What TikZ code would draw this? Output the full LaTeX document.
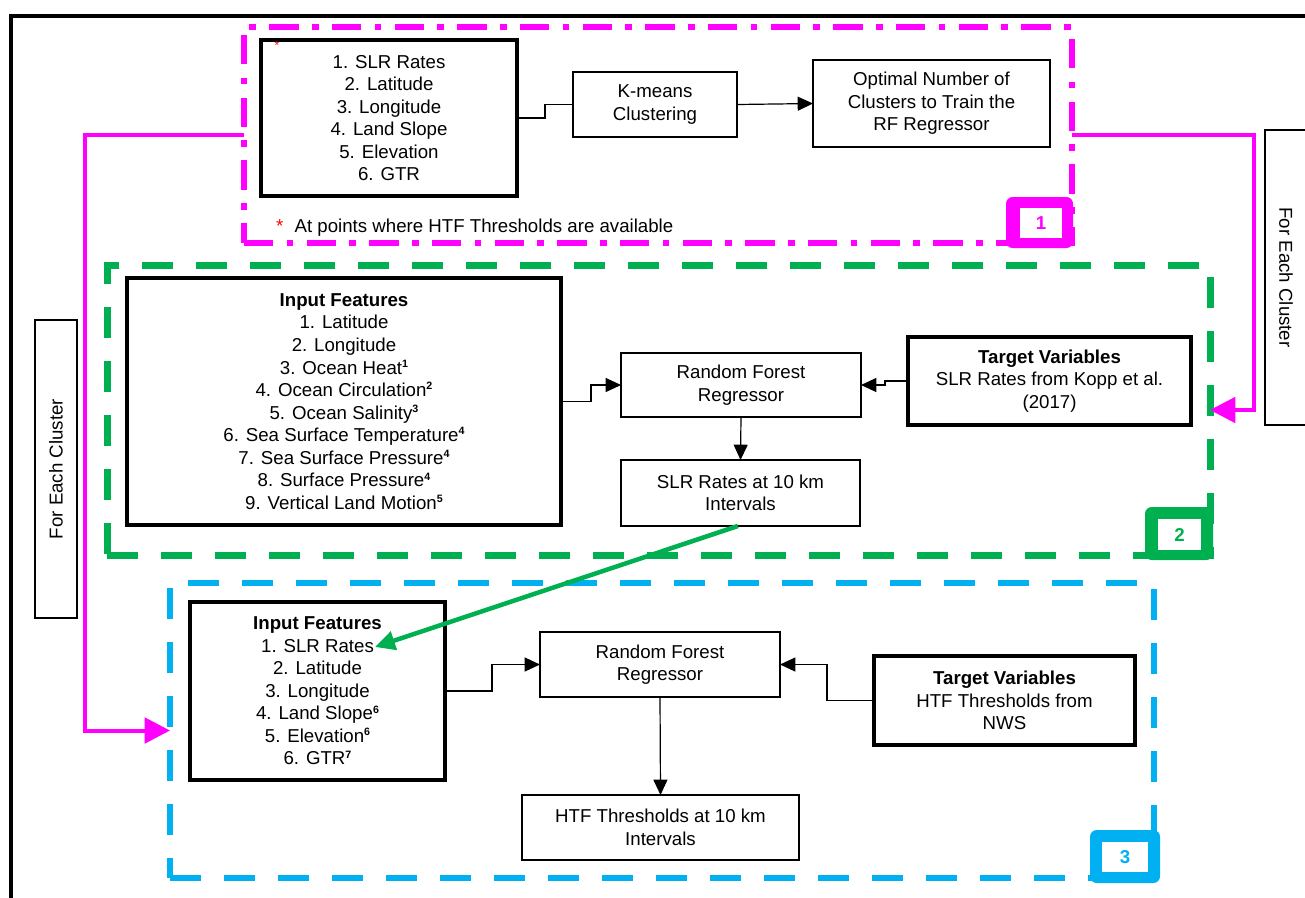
\documentclass[tikz,border=0pt]{standalone}
\usepackage{fontspec}
\setmainfont{Liberation Sans}
\usetikzlibrary{arrows.meta,calc}
\definecolor{mag}{RGB}{255,0,255}
\definecolor{grn}{RGB}{0,176,80}
\definecolor{blu}{RGB}{0,176,240}
\newcommand\mybox[7]{\node[#6, minimum width={(#4-#2)*0.75pt}, minimum height={(#5-#3)*0.75pt}] (#1) at ({(#2+#4)/2},{(#3+#5)/2}) {#7};}
\newcommand\sups[1]{\raisebox{5pt}{\bfseries\fontsize{8pt}{8pt}\selectfont #1}}
\tikzset{
  every node/.style={font=\fontsize{14pt}{16.9pt}\selectfont, align=center, inner sep=0pt, outer sep=0pt},
  thinbox/.style={draw, line width=1.1pt},
  thickbox/.style={draw, line width=2.6pt},
  conn/.style={line width=0.9pt, -{Triangle[length=11.5pt,width=10.5pt]}},
  plainconn/.style={line width=0.9pt},
  magconn/.style={mag, line width=3pt, -{Triangle[length=19pt,width=19pt]}},
  grnconn/.style={grn, line width=3.4pt, -{Triangle[length=15pt,width=14pt]}},
  sec1/.style={draw=mag, line width=4.1pt, dash pattern=on 22pt off 10pt on 5pt off 10pt},
  sec2/.style={draw=grn, line width=5.25pt, dash pattern=on 23.25pt off 17.25pt},
  sec3/.style={draw=blu, line width=4.9pt, dash pattern=on 23.25pt off 17.25pt},
  badge/.style={fill=#1, rounded corners=5pt},
  badgein/.style={fill=white, text=#1, font=\bfseries\fontsize{14pt}{14pt}\selectfont},
}
\begin{document}
\begin{tikzpicture}[x=0.75pt, y=-0.75pt]
\useasboundingbox (0,0) rectangle (1305,897);
% outer frame
\draw[line width=2.3pt] (11,910) -- (11,16) -- (1315,16);
% sections
\mybox{s1}{244}{27}{1072}{243}{sec1}{}
\mybox{s2}{107}{265}{1210}{555}{sec2}{}
\mybox{s3}{170}{583}{1154}{878}{sec3}{}
% badges
\mybox{b1}{1006}{197}{1073}{248}{badge=mag}{}
\mybox{b1i}{1020}{208}{1062}{238}{badgein=mag}{1}
\mybox{b2}{1145}{507}{1213}{560}{badge=grn}{}
\mybox{b2i}{1158}{519}{1201}{550}{badgein=grn}{2}
\mybox{b3}{1090}{830}{1160}{883}{badge=blu}{}
\mybox{b3i}{1102}{842}{1148}{872}{badgein=blu}{3}
% section 1
\mybox{in1}{261}{40}{517}{196}{thickbox}{1. SLR Rates\\2. Latitude\\3. Longitude\\4. Land Slope\\5. Elevation\\6. GTR}
\node[text=red, font=\fontsize{9pt}{9pt}\selectfont] (ast) at (277,45) {*};
\mybox{km}{573}{72}{737}{137}{thinbox}{K-means\\Clustering}
\mybox{opt}{813}{60}{1050}{147}{thinbox}{Optimal Number of\\Clusters to Train the\\RF Regressor}
\node[anchor=west] (note) at (276,228) {{\color{red}*}\hspace{8.5pt}At points where HTF Thresholds are available};
% for each cluster boxes
\node[thinbox, rotate=90, minimum width={298*0.75pt}, minimum height={42*0.75pt}] (fec1) at (56,469) {For Each Cluster};
\node[thinbox, rotate=-90, minimum width={295*0.75pt}, minimum height={42*0.75pt}] (fec2) at (1286,277.5) {For Each Cluster};
% section 2
\mybox{if2}{127}{278}{561}{525}{thickbox}{\textbf{Input Features}\\1. Latitude\\2. Longitude\\3. Ocean Heat\sups{1}\\4. Ocean Circulation\sups{2}\\5. Ocean Salinity\sups{3}\\6. Sea Surface Temperature\sups{4}\\7. Sea Surface Pressure\sups{4}\\8. Surface Pressure\sups{4}\\9. Vertical Land Motion\sups{5}}
\mybox{rf2}{621}{353}{861}{417}{thinbox}{Random Forest\\Regressor}
\mybox{tv2}{908}{337}{1191}{425}{thickbox}{\textbf{Target Variables}\\SLR Rates from Kopp et al.\\(2017)}
\mybox{slr}{621}{460}{860}{526}{thinbox}{SLR Rates at 10 km\\Intervals}
% section 3
\mybox{if3}{190}{602}{445}{780}{thickbox}{\textbf{Input Features}\\1. SLR Rates\\2. Latitude\\3. Longitude\\4. Land Slope\sups{6}\\5. Elevation\sups{6}\\6. GTR\sups{7}}
\mybox{rf3}{540}{632}{780}{697}{thinbox}{Random Forest\\Regressor}
\mybox{tv3}{874}{656}{1135}{745}{thickbox}{\textbf{Target Variables}\\HTF Thresholds from\\NWS}
\mybox{htf}{522}{795}{799}{860}{thinbox}{HTF Thresholds at 10 km\\Intervals}
% connectors
\draw[plainconn] (in1.east) -- ++(28,0) |- (km.west);
\draw[conn] (km.east) -- (opt.west);
\draw[conn] (if2.east) -- ++(30,0) |- (rf2.west);
\draw[conn] (tv2.west) -- ++(-23,0) |- (rf2.east);
\draw[conn] (rf2.south) -- (slr.north);
\draw[conn] (if3.east) -- ++(47,0) |- (rf3.west);
\draw[conn] (tv3.west) -- ++(-47,0) |- (rf3.east);
\draw[conn] (rf3.south) -- (htf.north);
\draw[magconn] (s1.east) -- ++(182,0) |- (s2.east);
\draw[magconn] (s1.west) -- ++(-159,0) |- (s3.west);
\coordinate (slrin) at (375,647);
\draw[grnconn] ([xshift=-2pt]slr.south) -- (slrin);
\end{tikzpicture}
\end{document}
